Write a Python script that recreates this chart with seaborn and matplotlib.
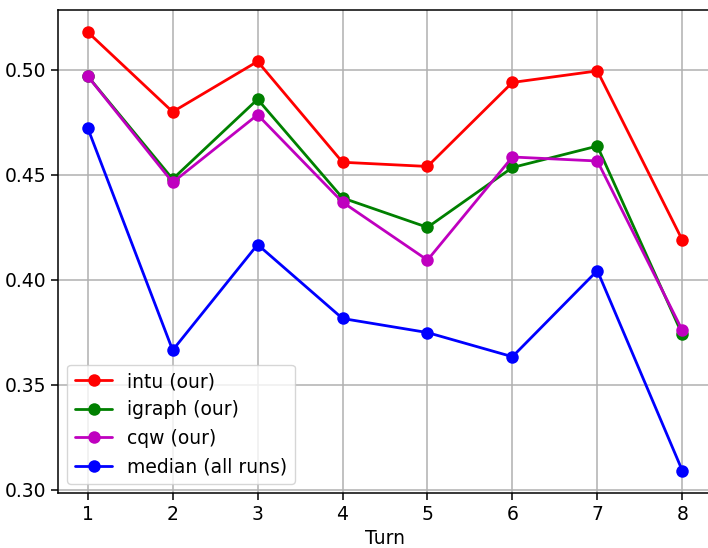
import pandas as pd
import matplotlib
matplotlib.use("Agg")
import matplotlib.pyplot as plt
import seaborn as sns

# values
turns = [1, 2, 3, 4, 5, 6, 7, 8]
intu = [0.518, 0.480, 0.504, 0.456, 0.454, 0.494, 0.4995, 0.419]
igraph = [0.497, 0.448, 0.486, 0.439, 0.425, 0.4535, 0.4637, 0.374]
cqw = [0.497, 0.4464, 0.4786, 0.437, 0.4094, 0.4585, 0.4566, 0.376]
median = [0.4723, 0.3665, 0.4168, 0.3816, 0.3749, 0.3634, 0.4044, 0.3092]

labels = ["intu (our)", "igraph (our)", "cqw (our)", "median (all runs)"]
colors = ["r", "g", "m", "b"]

df = pd.concat([
    pd.DataFrame({"Turn": turns, "value": vals, "series": lab})
    for vals, lab in zip([intu, igraph, cqw, median], labels)
])

sns.set_style("whitegrid", {"grid.color": "#b0b0b0", "axes.edgecolor": "black",
                            "text.color": "black", "xtick.color": "black",
                            "ytick.color": "black", "axes.labelcolor": "black"})
plt.rcParams["font.family"] = ["DejaVu Sans"]
fs = 13.5

fig = plt.figure(figsize=(7.08, 5.48), dpi=100)
ax = fig.add_axes([58 / 708, 55 / 548, 654 / 708, 483 / 548])
sns.lineplot(data=df, x="Turn", y="value", hue="series", hue_order=labels,
             palette=colors, marker="o", markersize=9, markeredgewidth=0,
             linewidth=2, ax=ax)

ax.grid(True, linewidth=1.1)
for s in ax.spines.values():
    s.set_linewidth(1.1)
ax.tick_params(axis="both", labelsize=fs, length=5, width=1.1, direction="out",
               left=True, bottom=True, colors="black")
ax.set_xticks(turns)
ax.set_yticks([0.30, 0.35, 0.40, 0.45, 0.50])
ax.yaxis.set_major_formatter(matplotlib.ticker.FormatStrFormatter("%.2f"))
ax.set_xlim(0.65, 8.35)
ax.set_ylim(0.2985, 0.5285)
ax.set_xlabel("Turn", fontsize=fs, color="black")
ax.set_ylabel("")
leg = ax.legend(loc="lower left", fontsize=fs, framealpha=0.8, handlelength=2,
                borderpad=0.4, labelspacing=0.5)
for t in leg.get_texts():
    t.set_color("black")

fig.savefig("out.png", dpi=100)
